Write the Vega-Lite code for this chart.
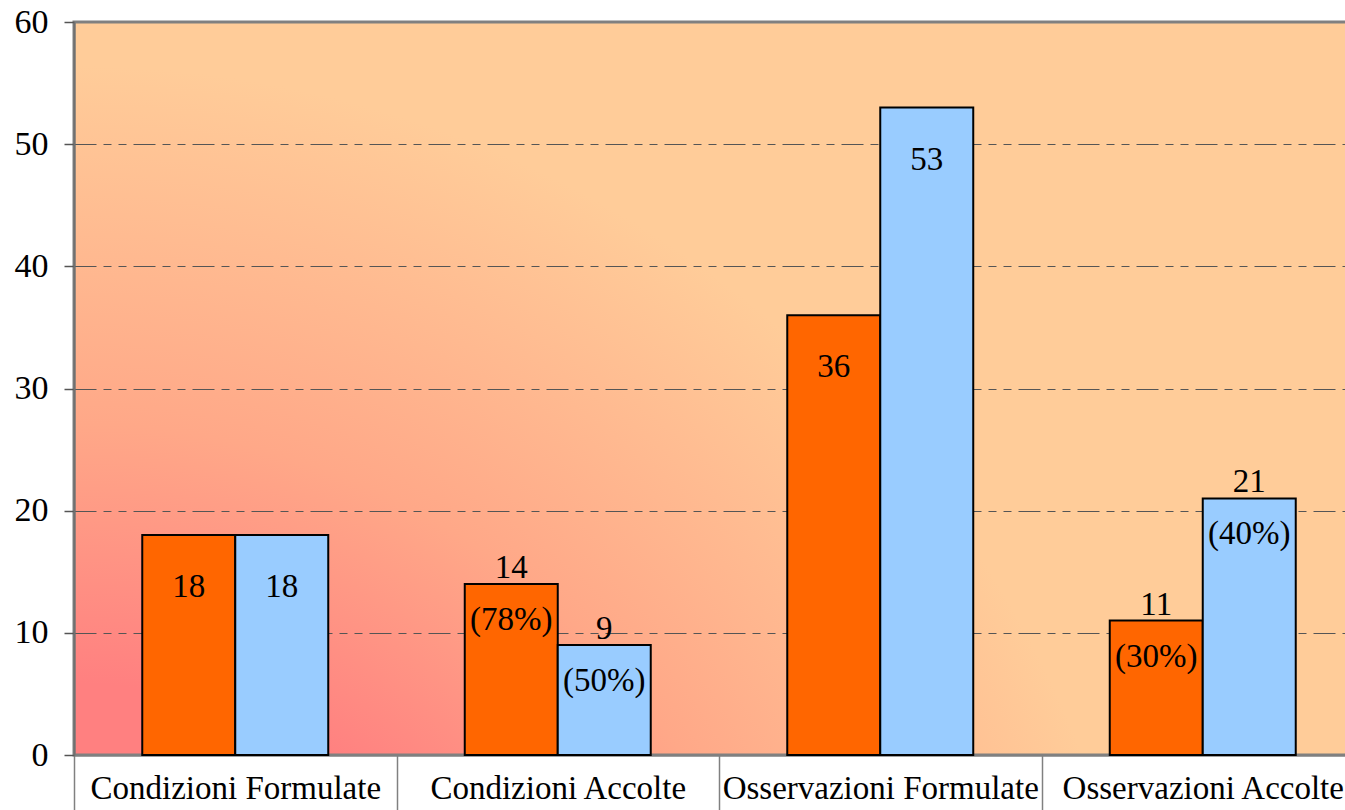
{
  "$schema": "https://vega.github.io/schema/vega-lite/v6.json",
  "width": 1290,
  "height": 733,
  "autosize": {"type": "none"},
  "padding": {"left": 74, "top": 22, "right": 0, "bottom": 55},
  "background": "#FFFFFF",
  "config": {
    "font": "Liberation Serif",
    "view": {
      "stroke": "#808080",
      "strokeWidth": 3,
      "fill": {
        "gradient": "radial",
        "x1": 0, "y1": 1.09, "r1": 0,
        "x2": 0, "y2": 1.09, "r2": 0.84,
        "stops": [
          {"offset": 0.43, "color": "#FF8080"},
          {"offset": 0.67, "color": "#FFA888"},
          {"offset": 1, "color": "#FFCC99"}
        ]
      }
    }
  },
  "data": {
    "values": [
      {"categoria": "Condizioni Formulate", "serie": "serie A", "valore": 18, "sopra": "", "dentro": "18"},
      {"categoria": "Condizioni Formulate", "serie": "serie B", "valore": 18, "sopra": "", "dentro": "18"},
      {"categoria": "Condizioni Accolte", "serie": "serie A", "valore": 14, "sopra": "14", "dentro": "(78%)"},
      {"categoria": "Condizioni Accolte", "serie": "serie B", "valore": 9, "sopra": "9", "dentro": "(50%)"},
      {"categoria": "Osservazioni Formulate", "serie": "serie A", "valore": 36, "sopra": "", "dentro": "36"},
      {"categoria": "Osservazioni Formulate", "serie": "serie B", "valore": 53, "sopra": "", "dentro": "53"},
      {"categoria": "Osservazioni Accolte", "serie": "serie A", "valore": 11, "sopra": "11", "dentro": "(30%)"},
      {"categoria": "Osservazioni Accolte", "serie": "serie B", "valore": 21, "sopra": "21", "dentro": "(40%)"}
    ]
  },
  "encoding": {
    "x": {
      "field": "categoria",
      "type": "nominal",
      "sort": null,
      "scale": {"paddingInner": 0, "paddingOuter": 0},
      "axis": {
        "title": null,
        "labelAngle": 0,
        "labelFontSize": 33,
        "labelLimit": 400,
        "labelColor": "#000000",
        "labelPadding": -43,
        "tickBand": "extent",
        "tickSize": 60,
        "tickColor": "#808080",
        "tickWidth": 1.5,
        "domainColor": "#808080",
        "domainWidth": 2,
        "grid": false
      }
    },
    "xOffset": {
      "field": "serie",
      "type": "nominal",
      "scale": {"paddingInner": 0, "paddingOuter": 0.734}
    },
    "y": {
      "field": "valore",
      "type": "quantitative",
      "scale": {"domain": [0, 60], "nice": false},
      "axis": {
        "title": null,
        "values": [0, 10, 20, 30, 40, 50, 60],
        "labelFontSize": 34,
        "labelColor": "#000000",
        "labelPadding": 16,
        "tickSize": 10,
        "tickColor": "#555555",
        "tickWidth": 1.5,
        "domainColor": "#707070",
        "domainWidth": 2,
        "grid": true,
        "gridColor": "#555555",
        "gridWidth": 1,
        "gridDash": [22, 7, 8, 7, 8, 7],
        "gridOpacity": {"condition": {"test": "datum.value === 0 || datum.value === 60", "value": 0}, "value": 1}
      }
    }
  },
  "layer": [
    {
      "mark": {"type": "bar", "stroke": "#000000", "strokeWidth": 2},
      "encoding": {
        "color": {
          "field": "serie",
          "type": "nominal",
          "scale": {"domain": ["serie A", "serie B"], "range": ["#FF6600", "#99CCFF"]},
          "legend": null
        }
      }
    },
    {
      "transform": [{"filter": "datum.sopra !== ''"}],
      "mark": {"type": "text", "baseline": "alphabetic", "dy": -6, "fontSize": 33, "color": "#000000"},
      "encoding": {"text": {"field": "sopra"}}
    },
    {
      "transform": [{"filter": "datum.sopra === ''"}],
      "mark": {"type": "text", "baseline": "top", "dy": 36, "fontSize": 33, "color": "#000000"},
      "encoding": {"text": {"field": "dentro"}}
    },
    {
      "transform": [{"filter": "datum.sopra !== ''"}],
      "mark": {"type": "text", "baseline": "top", "dy": 20, "fontSize": 33, "color": "#000000"},
      "encoding": {"text": {"field": "dentro"}}
    }
  ]
}
